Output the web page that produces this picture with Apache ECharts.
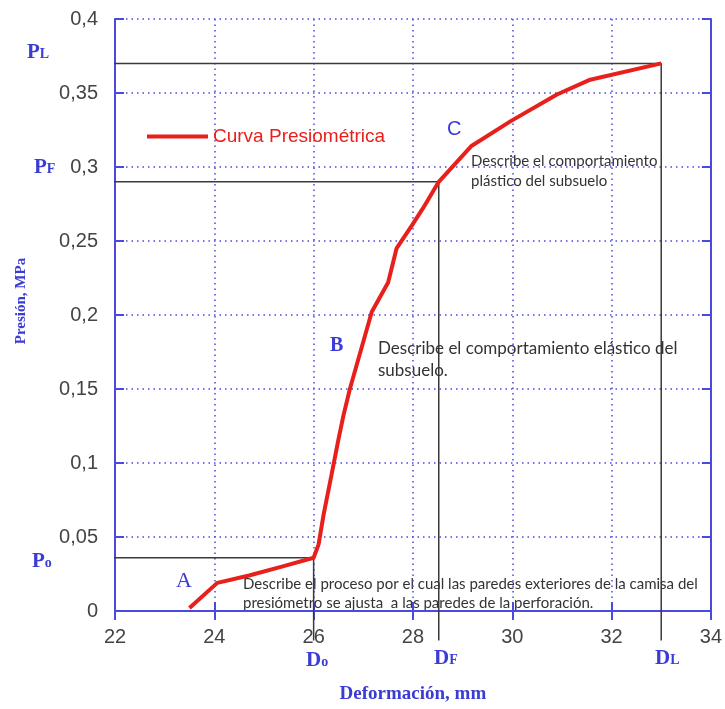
<!DOCTYPE html>
<html>
<head>
<meta charset="utf-8">
<script src="https://cdn.jsdelivr.net/npm/echarts@6/dist/echarts.min.js"></script>
<style>
  html, body { margin: 0; padding: 0; background: #fff; }
  #chart { width: 725px; height: 709px; }
</style>
</head>
<body>
<div id="chart"></div>
<script>
// curva presiometrica: deformacion (mm) vs presion (MPa)
var deformacion = [23.5, 24.06, 24.7, 25.36, 26.0, 26.1, 26.2, 26.36, 26.5, 26.6, 26.73, 27.17, 27.5, 27.67, 27.97, 28.2, 28.52, 29.17, 29.97, 30.9, 31.57, 33.0];
var presion     = [0.002, 0.019, 0.024, 0.030, 0.036, 0.045, 0.065, 0.092, 0.116, 0.132, 0.150, 0.202, 0.222, 0.245, 0.260, 0.272, 0.29, 0.314, 0.331, 0.349, 0.359, 0.37];

// puntos caracteristicos
var pNames = ['Po', 'PF', 'PL'];
var pValues = [0.036, 0.29, 0.37];
var dValues = [26.0, 28.52, 33.0];
var lineStartX = [21.16, 20.98, 20.9];   // las lineas salen fuera del eje
var lineEndY = -0.02;

var xTicks = [22, 24, 26, 28, 30, 32, 34];
var yTicks = [0, 0.05, 0.1, 0.15, 0.2, 0.25, 0.3, 0.35, 0.4];

var blue = '#4a4ae0';
var labelBlue = '#3b3bd6';

var curve = deformacion.map(function (d, i) { return [d, presion[i]]; });

var refSeries = pNames.map(function (n, i) {
    return {
        name: n,
        type: 'line',
        clip: false,
        silent: true,
        showSymbol: false,
        z: 1,
        lineStyle: { color: '#3a3a3a', width: 1.5 },
        data: [[lineStartX[i], pValues[i]], [dValues[i], pValues[i]], [dValues[i], lineEndY]]
    };
});

function fmt(v) { return String(v).replace('.', ','); }

var chartDom = document.getElementById('chart');
var myChart = echarts.init(chartDom);

var axisBase = {
    type: 'value',
    axisLine: { show: true, lineStyle: { color: blue, width: 2 } },
    axisTick: { show: true, inside: true, length: 9, lineStyle: { color: blue, width: 2 } }
};

var subFont = 'Liberation Serif';

function letterLabel(main, sub, x, y) {
    return {
        type: 'text', left: x, top: y,
        style: {
            text: '{a|' + main + '}{b|' + sub + '}',
            rich: {
                a: { fontFamily: subFont, fontWeight: 'bold', fontSize: 21, fill: labelBlue, color: labelBlue },
                b: { fontFamily: subFont, fontWeight: 'bold', fontSize: 14, fill: labelBlue, color: labelBlue, verticalAlign: 'bottom', padding: [0, 0, 2, 0] }
            }
        }
    };
}

var option = {
    animation: false,
    backgroundColor: '#fff',
    grid: { left: 115, right: 10, top: 19, bottom: 96 },
    legend: {
        data: ['Curva Presiométrica'],
        left: 142, top: 122,
        icon: 'rect',
        itemWidth: 61, itemHeight: 4,
        textStyle: { color: '#e8201c', fontSize: 19, fontFamily: 'Liberation Sans' }
    },
    xAxis: [
        Object.assign({}, axisBase, {
            min: 22, max: 34, interval: 2, position: 'bottom',
            name: 'Deformación, mm', nameLocation: 'middle', nameGap: 74,
            nameTextStyle: { color: labelBlue, fontFamily: subFont, fontWeight: 'bold', fontSize: 19 },
            axisLabel: { color: '#444', fontSize: 20, fontFamily: 'Liberation Sans', margin: 16 },
            splitLine: { show: true, lineStyle: { color: blue, width: 1.5, type: [1.5, 4] } }
        }),
        Object.assign({}, axisBase, {
            min: 22, max: 34, interval: 2, position: 'top',
            axisLabel: { show: false }, splitLine: { show: false }
        })
    ],
    yAxis: [
        Object.assign({}, axisBase, {
            min: 0, max: 0.4, interval: 0.05, position: 'left',
            name: 'Presión, MPa', nameLocation: 'middle', nameGap: 86, nameRotate: 90,
            nameTextStyle: { color: labelBlue, fontFamily: subFont, fontWeight: 'bold', fontSize: 15, padding: [0, 0, 0, 28] },
            axisLabel: { color: '#444', fontSize: 20, fontFamily: 'Liberation Sans', margin: 17, formatter: fmt },
            splitLine: { show: true, lineStyle: { color: blue, width: 1.5, type: [1.5, 4] } }
        }),
        Object.assign({}, axisBase, {
            min: 0, max: 0.4, interval: 0.05, position: 'right',
            axisLabel: { show: false }, splitLine: { show: false }
        })
    ],
    graphic: [
        letterLabel('P', 'L', 27, 42),
        letterLabel('P', 'F', 34, 157),
        letterLabel('P', 'o', 32, 551),
        letterLabel('D', 'o', 306, 650),
        letterLabel('D', 'F', 434, 648),
        letterLabel('D', 'L', 655, 648),
        { type: 'text', left: 176, top: 570, style: { text: 'A', fontFamily: subFont, fontSize: 22, fill: labelBlue } },
        { type: 'text', left: 330, top: 336, style: { text: 'B', fontFamily: subFont, fontWeight: 'bold', fontSize: 20, fill: labelBlue } },
        { type: 'text', left: 447, top: 119, style: { text: 'C', fontFamily: 'Liberation Sans', fontSize: 20, fill: labelBlue } },
        { type: 'text', left: 471, top: 151, style: {
            text: 'Describe el comportamiento\nplástico del subsuelo',
            fontFamily: 'Lato', fontSize: 15, lineHeight: 20, fill: '#333' } },
        { type: 'text', left: 378, top: 338, style: {
            text: 'Describe el comportamiento elástico del\nsubsuelo.',
            fontFamily: 'Lato', fontSize: 17, lineHeight: 22, fill: '#333' } },
        { type: 'text', left: 243, top: 575, style: {
            text: 'Describe el proceso por el cual las paredes exteriores de la camisa del\npresiómetro se ajusta  a las paredes de la perforación.',
            fontFamily: 'Lato', fontSize: 15, lineHeight: 19, fill: '#333' } }
    ],
    series: refSeries.concat([
        {
            name: 'Curva Presiométrica',
            type: 'line',
            showSymbol: false,
            z: 3,
            color: '#e8201c',
            lineStyle: { color: '#e8201c', width: 4 },
            data: curve
        }
    ])
};

option && myChart.setOption(option);
</script>
</body>
</html>
